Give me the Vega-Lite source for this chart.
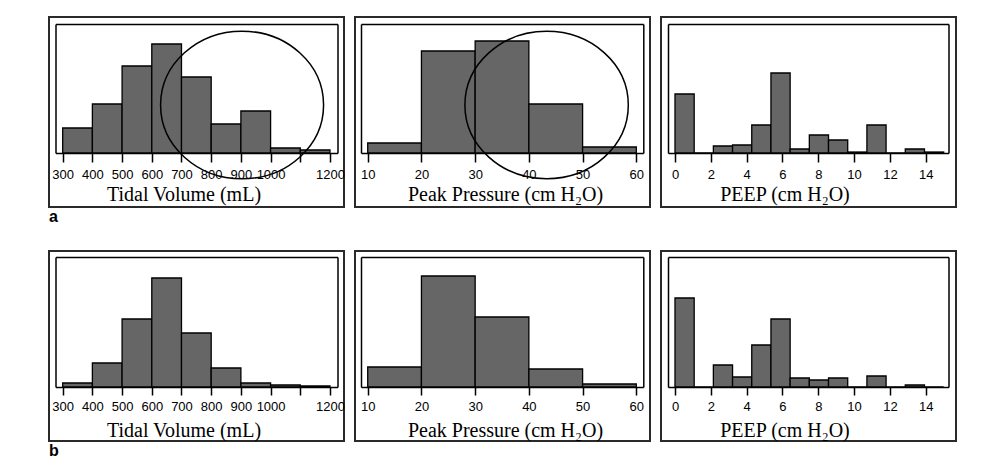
{
  "$schema": "https://vega.github.io/schema/vega-lite/v6.json",
  "padding": {"left": 48, "top": 16, "right": 5, "bottom": 5},
  "background": "white",
  "datasets": {
    "a_tv": [
      {"bin_start": 300, "bin_end": 400, "count": 25},
      {"bin_start": 400, "bin_end": 500, "count": 49},
      {"bin_start": 500, "bin_end": 600, "count": 87},
      {"bin_start": 600, "bin_end": 700, "count": 109},
      {"bin_start": 700, "bin_end": 800, "count": 76},
      {"bin_start": 800, "bin_end": 900, "count": 29},
      {"bin_start": 900, "bin_end": 1000, "count": 42},
      {"bin_start": 1000, "bin_end": 1100, "count": 5},
      {"bin_start": 1100, "bin_end": 1200, "count": 3}
    ],
    "a_pp": [
      {"bin_start": 10, "bin_end": 20, "count": 10},
      {"bin_start": 20, "bin_end": 30, "count": 102},
      {"bin_start": 30, "bin_end": 40, "count": 112},
      {"bin_start": 40, "bin_end": 50, "count": 49},
      {"bin_start": 50, "bin_end": 60, "count": 6}
    ],
    "a_peep": [
      {"bin_start": 0, "bin_end": 1.0714, "count": 59},
      {"bin_start": 1.0714, "bin_end": 2.1429, "count": 0},
      {"bin_start": 2.1429, "bin_end": 3.2143, "count": 7},
      {"bin_start": 3.2143, "bin_end": 4.2857, "count": 8},
      {"bin_start": 4.2857, "bin_end": 5.3571, "count": 28},
      {"bin_start": 5.3571, "bin_end": 6.4286, "count": 80},
      {"bin_start": 6.4286, "bin_end": 7.5, "count": 4},
      {"bin_start": 7.5, "bin_end": 8.5714, "count": 18},
      {"bin_start": 8.5714, "bin_end": 9.6429, "count": 13},
      {"bin_start": 9.6429, "bin_end": 10.7143, "count": 1},
      {"bin_start": 10.7143, "bin_end": 11.7857, "count": 28},
      {"bin_start": 11.7857, "bin_end": 12.8571, "count": 0},
      {"bin_start": 12.8571, "bin_end": 13.9286, "count": 4},
      {"bin_start": 13.9286, "bin_end": 15, "count": 1}
    ],
    "b_tv": [
      {"bin_start": 300, "bin_end": 400, "count": 4},
      {"bin_start": 400, "bin_end": 500, "count": 24},
      {"bin_start": 500, "bin_end": 600, "count": 68},
      {"bin_start": 600, "bin_end": 700, "count": 109},
      {"bin_start": 700, "bin_end": 800, "count": 54},
      {"bin_start": 800, "bin_end": 900, "count": 19},
      {"bin_start": 900, "bin_end": 1000, "count": 4},
      {"bin_start": 1000, "bin_end": 1100, "count": 2},
      {"bin_start": 1100, "bin_end": 1200, "count": 1}
    ],
    "b_pp": [
      {"bin_start": 10, "bin_end": 20, "count": 20},
      {"bin_start": 20, "bin_end": 30, "count": 111},
      {"bin_start": 30, "bin_end": 40, "count": 70},
      {"bin_start": 40, "bin_end": 50, "count": 18},
      {"bin_start": 50, "bin_end": 60, "count": 3}
    ],
    "b_peep": [
      {"bin_start": 0, "bin_end": 1.0714, "count": 89},
      {"bin_start": 1.0714, "bin_end": 2.1429, "count": 0},
      {"bin_start": 2.1429, "bin_end": 3.2143, "count": 22},
      {"bin_start": 3.2143, "bin_end": 4.2857, "count": 10},
      {"bin_start": 4.2857, "bin_end": 5.3571, "count": 42},
      {"bin_start": 5.3571, "bin_end": 6.4286, "count": 68},
      {"bin_start": 6.4286, "bin_end": 7.5, "count": 9},
      {"bin_start": 7.5, "bin_end": 8.5714, "count": 7},
      {"bin_start": 8.5714, "bin_end": 9.6429, "count": 9},
      {"bin_start": 9.6429, "bin_end": 10.7143, "count": 0},
      {"bin_start": 10.7143, "bin_end": 11.7857, "count": 11},
      {"bin_start": 11.7857, "bin_end": 12.8571, "count": 0},
      {"bin_start": 12.8571, "bin_end": 13.9286, "count": 2},
      {"bin_start": 13.9286, "bin_end": 15, "count": 0}
    ]
  },
  "columns": 3,
  "bounds": "flush",
  "spacing": {"row": 44, "column": 11},
  "concat": [
    {
      "width": 295, "height": 190,
      "title": {"text": "a"},
      "layer": [
        {
          "data": {"name": "a_tv"},
          "mark": {"type": "bar", "fill": "#666666", "stroke": "black", "strokeWidth": 1.3},
          "encoding": {
            "x": {"field": "bin_start", "type": "quantitative",
              "scale": {"domain": [275.8, 1225.3], "range": [6.5, 288.5], "nice": false, "zero": false},
              "axis": {"orient": "bottom", "offset": -54, "values": [300, 400, 500, 600, 700, 800, 900, 1000, 1100, 1200], "format": "d",
                "labelExpr": "datum.value == 1100 ? '' : datum.label", "tickSize": 9, "labelPadding": 6,
                "title": "Tidal Volume (mL)", "titleX": 134.5, "titleY": 47}},
            "x2": {"field": "bin_end"},
            "y": {"field": "count", "type": "quantitative",
              "scale": {"domain": [0, 129], "range": [136, 7], "nice": false},
              "axis": {"orient": "left", "offset": -6.5, "labels": false, "ticks": false, "title": null}},
            "y2": {"datum": 0}
          }
        },
        {
          "data": {"name": "a_tv"},
          "mark": {"type": "point", "opacity": 0},
          "encoding": {
            "x": {"field": "bin_start", "type": "quantitative", "axis": {"orient": "top", "offset": -7, "labels": false, "ticks": false, "title": null}},
            "y": {"field": "count", "type": "quantitative", "axis": {"orient": "right", "offset": -6.5, "labels": false, "ticks": false, "title": null}}
          }
        },
        {
          "data": {"values": [{}]},
          "mark": {"type": "point", "shape": "M 1 0 C 1 0.5004 0.5523 0.906 0 0.906 C -0.5523 0.906 -1 0.5004 -1 0 C -1 -0.5004 -0.5523 -0.906 0 -0.906 C 0.5523 -0.906 1 -0.5004 1 0 Z",
            "size": 26569, "filled": false, "stroke": "black", "strokeWidth": 1.5, "opacity": 1},
          "encoding": {"x": {"datum": 904, "type": "quantitative", "axis": null}, "y": {"datum": 48, "type": "quantitative", "axis": null}}
        }
      ],
      "resolve": {"axis": {"x": "independent", "y": "independent"}}
    },
    {
      "width": 295, "height": 190,
      "layer": [
        {
          "data": {"name": "a_pp"},
          "mark": {"type": "bar", "fill": "#666666", "stroke": "black", "strokeWidth": 1.3},
          "encoding": {
            "x": {"field": "bin_start", "type": "quantitative",
              "scale": {"domain": [8.75, 61.3], "range": [6, 288.3], "nice": false, "zero": false},
              "axis": {"orient": "bottom", "offset": -54, "values": [10, 20, 30, 40, 50, 60], "format": "d", "tickSize": 9, "labelPadding": 6,
                "title": "Peak Pressure (cm H₂O)", "titleX": 150, "titleY": 47}},
            "x2": {"field": "bin_end"},
            "y": {"field": "count", "type": "quantitative",
              "scale": {"domain": [0, 129], "range": [136, 7], "nice": false},
              "axis": {"orient": "left", "offset": -6, "labels": false, "ticks": false, "title": null}},
            "y2": {"datum": 0}
          }
        },
        {
          "data": {"name": "a_pp"},
          "mark": {"type": "point", "opacity": 0},
          "encoding": {
            "x": {"field": "bin_start", "type": "quantitative", "axis": {"orient": "top", "offset": -7, "labels": false, "ticks": false, "title": null}},
            "y": {"field": "count", "type": "quantitative", "axis": {"orient": "right", "offset": -6.7, "labels": false, "ticks": false, "title": null}}
          }
        },
        {
          "data": {"values": [{}]},
          "mark": {"type": "point", "shape": "M 1 0 C 1 0.4983 0.5523 0.902 0 0.902 C -0.5523 0.902 -1 0.4983 -1 0 C -1 -0.4983 -0.5523 -0.902 0 -0.902 C 0.5523 -0.902 1 -0.4983 1 0 Z",
            "size": 26700, "filled": false, "stroke": "black", "strokeWidth": 1.5, "opacity": 1},
          "encoding": {"x": {"datum": 43.3, "type": "quantitative", "axis": null}, "y": {"datum": 48, "type": "quantitative", "axis": null}}
        }
      ],
      "resolve": {"axis": {"x": "independent", "y": "independent"}}
    },
    {
      "width": 295, "height": 190,
      "layer": [
        {
          "data": {"name": "a_peep"},
          "mark": {"type": "bar", "fill": "#666666", "stroke": "black", "strokeWidth": 1.3},
          "encoding": {
            "x": {"field": "bin_start", "type": "quantitative",
              "scale": {"domain": [-0.39, 15.27], "range": [7, 287.5], "nice": false, "zero": false},
              "axis": {"orient": "bottom", "offset": -54, "values": [0, 2, 4, 6, 8, 10, 12, 14], "format": "d", "tickSize": 9, "labelPadding": 6,
                "title": "PEEP (cm H₂O)", "titleX": 123.5, "titleY": 47}},
            "x2": {"field": "bin_end"},
            "y": {"field": "count", "type": "quantitative",
              "scale": {"domain": [0, 129], "range": [136, 7], "nice": false},
              "axis": {"orient": "left", "offset": -7, "labels": false, "ticks": false, "title": null}},
            "y2": {"datum": 0}
          }
        },
        {
          "data": {"name": "a_peep"},
          "mark": {"type": "point", "opacity": 0},
          "encoding": {
            "x": {"field": "bin_start", "type": "quantitative", "axis": {"orient": "top", "offset": -7, "labels": false, "ticks": false, "title": null}},
            "y": {"field": "count", "type": "quantitative", "axis": {"orient": "right", "offset": -7.5, "labels": false, "ticks": false, "title": null}}
          }
        }
      ],
      "resolve": {"axis": {"x": "independent", "y": "independent"}}
    },
    {
      "width": 295, "height": 190,
      "title": {"text": "b"},
      "layer": [
        {
          "data": {"name": "b_tv"},
          "mark": {"type": "bar", "fill": "#666666", "stroke": "black", "strokeWidth": 1.3},
          "encoding": {
            "x": {"field": "bin_start", "type": "quantitative",
              "scale": {"domain": [275.8, 1225.3], "range": [6.5, 288.5], "nice": false, "zero": false},
              "axis": {"orient": "bottom", "offset": -54, "values": [300, 400, 500, 600, 700, 800, 900, 1000, 1100, 1200], "format": "d",
                "labelExpr": "datum.value == 1100 ? '' : datum.label", "tickSize": 8, "labelPadding": 5,
                "title": "Tidal Volume (mL)", "titleX": 134.5, "titleY": 49}},
            "x2": {"field": "bin_end"},
            "y": {"field": "count", "type": "quantitative",
              "scale": {"domain": [0, 130], "range": [136, 6], "nice": false},
              "axis": {"orient": "left", "offset": -6.5, "labels": false, "ticks": false, "title": null}},
            "y2": {"datum": 0}
          }
        },
        {
          "data": {"name": "b_tv"},
          "mark": {"type": "point", "opacity": 0},
          "encoding": {
            "x": {"field": "bin_start", "type": "quantitative", "axis": {"orient": "top", "offset": -6, "labels": false, "ticks": false, "title": null}},
            "y": {"field": "count", "type": "quantitative", "axis": {"orient": "right", "offset": -6.5, "labels": false, "ticks": false, "title": null}}
          }
        }
      ],
      "resolve": {"axis": {"x": "independent", "y": "independent"}}
    },
    {
      "width": 295, "height": 190,
      "layer": [
        {
          "data": {"name": "b_pp"},
          "mark": {"type": "bar", "fill": "#666666", "stroke": "black", "strokeWidth": 1.3},
          "encoding": {
            "x": {"field": "bin_start", "type": "quantitative",
              "scale": {"domain": [8.75, 61.3], "range": [6, 288.3], "nice": false, "zero": false},
              "axis": {"orient": "bottom", "offset": -54, "values": [10, 20, 30, 40, 50, 60], "format": "d", "tickSize": 8, "labelPadding": 5,
                "title": "Peak Pressure (cm H₂O)", "titleX": 150, "titleY": 49}},
            "x2": {"field": "bin_end"},
            "y": {"field": "count", "type": "quantitative",
              "scale": {"domain": [0, 130], "range": [136, 6], "nice": false},
              "axis": {"orient": "left", "offset": -6, "labels": false, "ticks": false, "title": null}},
            "y2": {"datum": 0}
          }
        },
        {
          "data": {"name": "b_pp"},
          "mark": {"type": "point", "opacity": 0},
          "encoding": {
            "x": {"field": "bin_start", "type": "quantitative", "axis": {"orient": "top", "offset": -6, "labels": false, "ticks": false, "title": null}},
            "y": {"field": "count", "type": "quantitative", "axis": {"orient": "right", "offset": -6.7, "labels": false, "ticks": false, "title": null}}
          }
        }
      ],
      "resolve": {"axis": {"x": "independent", "y": "independent"}}
    },
    {
      "width": 295, "height": 190,
      "layer": [
        {
          "data": {"name": "b_peep"},
          "mark": {"type": "bar", "fill": "#666666", "stroke": "black", "strokeWidth": 1.3},
          "encoding": {
            "x": {"field": "bin_start", "type": "quantitative",
              "scale": {"domain": [-0.39, 15.27], "range": [7, 287.5], "nice": false, "zero": false},
              "axis": {"orient": "bottom", "offset": -54, "values": [0, 2, 4, 6, 8, 10, 12, 14], "format": "d", "tickSize": 8, "labelPadding": 5,
                "title": "PEEP (cm H₂O)", "titleX": 123.5, "titleY": 49}},
            "x2": {"field": "bin_end"},
            "y": {"field": "count", "type": "quantitative",
              "scale": {"domain": [0, 130], "range": [136, 6], "nice": false},
              "axis": {"orient": "left", "offset": -7, "labels": false, "ticks": false, "title": null}},
            "y2": {"datum": 0}
          }
        },
        {
          "data": {"name": "b_peep"},
          "mark": {"type": "point", "opacity": 0},
          "encoding": {
            "x": {"field": "bin_start", "type": "quantitative", "axis": {"orient": "top", "offset": -6, "labels": false, "ticks": false, "title": null}},
            "y": {"field": "count", "type": "quantitative", "axis": {"orient": "right", "offset": -7.5, "labels": false, "ticks": false, "title": null}}
          }
        }
      ],
      "resolve": {"axis": {"x": "independent", "y": "independent"}}
    }
  ],
  "config": {
    "view": {"stroke": "#2a2a2a", "strokeWidth": 2},
    "axis": {"grid": false, "minExtent": 0, "domainColor": "black", "domainWidth": 1.5, "tickColor": "black", "tickWidth": 1.5,
      "labelFont": "Liberation Sans", "labelFontSize": 13, "labelColor": "black", "labelFlush": false, "labelOverlap": false, "labelBound": false,
      "titleFont": "Liberation Serif", "titleFontSize": 20, "titleFontWeight": "normal", "titleColor": "black", "titleBaseline": "alphabetic", "zindex": 1},
    "title": {"font": "Liberation Sans", "fontSize": 16, "fontWeight": "bold", "color": "black", "anchor": "start", "orient": "bottom", "offset": 2}
  }
}
